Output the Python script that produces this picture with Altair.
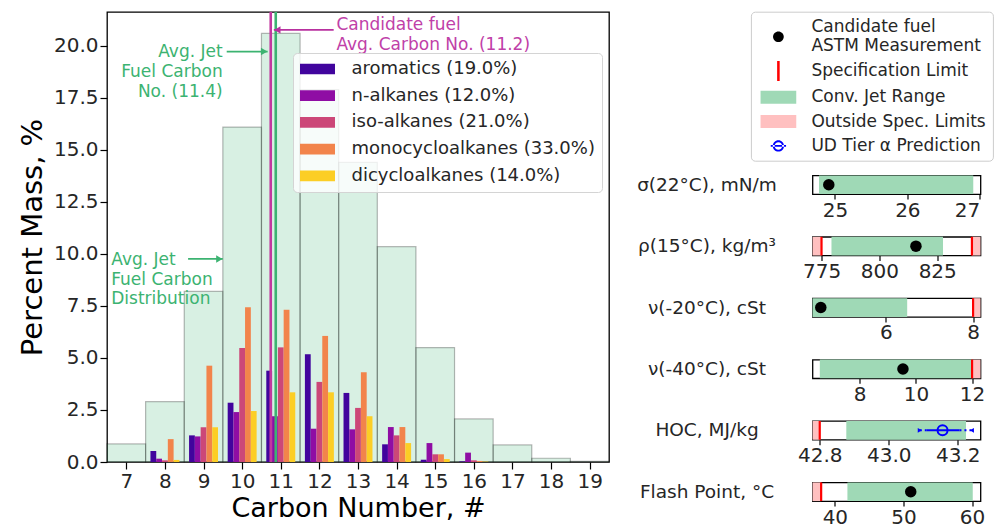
import altair as alt
import pandas as pd

FONT = "DejaVu Sans"

# ---------------- left panel data ----------------
carbon_numbers = list(range(7, 20))
jet_fuel_dist = [0.87, 2.9, 8.2, 16.1, 20.6, 17.9, 14.4, 10.35, 5.5, 2.07, 0.82, 0.18, 0.03]

comp_carbon = list(range(8, 17))
aromatics = [0.53, 1.28, 2.85, 4.39, 5.18, 3.32, 0.85, 0.11, 0.03]
n_alkanes = [0.16, 1.23, 2.40, 2.20, 1.60, 1.57, 1.68, 0.91, 0.45]
iso_alkanes = [0.08, 1.67, 5.48, 5.51, 3.85, 2.60, 1.28, 0.37, 0.08]
monocycloalkanes = [1.10, 4.63, 7.44, 7.32, 6.06, 4.31, 1.68, 0.37, 0.05]
dicycloalkanes = [0.10, 1.67, 2.45, 3.35, 3.35, 2.20, 0.91, 0.14, 0.02]
comp_names = ["aromatics (19.0%)", "n-alkanes (12.0%)", "iso-alkanes (21.0%)",
              "monocycloalkanes (33.0%)", "dicycloalkanes (14.0%)"]
comp_colors = ["#41049d", "#8f0da4", "#cc4778", "#f2844b", "#fcce25"]
comp_offsets = [-0.3, -0.15, 0.0, 0.15, 0.3]

cand_avg_line = 10.74
jet_avg_line = 10.87

ann_text = ["Candidate fuel", "Avg. Carbon No. (11.2)",
            "Avg. Jet", "Fuel Carbon", "No. (11.4)",
            "Avg. Jet", "Fuel Carbon", "Distribution"]
ann_x = [12.44, 12.44, 9.495, 9.495, 9.495, 6.61, 6.61, 6.61]
ann_y = [21.01, 20.05, 19.73, 18.76, 17.80, 9.71, 8.75, 7.84]
ann_grp = ["cand", "cand", "jet", "jet", "jet", "dist", "dist", "dist"]

arrow_x0 = [12.37, 9.60, 8.60]
arrow_x1 = [10.82, 10.66, 9.50]
arrow_y = [20.77, 19.73, 9.76]
arrow_head = [10.91, 10.57, 9.41]
arrow_grp = ["cand", "jet", "dist"]

# ---------------- right panel data ----------------
prop_labels = ["σ(22°C), mN/m", "ρ(15°C), kg/m³", "ν(-20°C), cSt",
               "ν(-40°C), cSt", "HOC, MJ/kg", "Flash Point, °C"]
prop_domains = [[24.69, 27.01], [771.1, 843.7], [4.32, 8.17],
                [6.32, 12.3], [42.779, 43.266], [36.74, 61.23]]
prop_ticks = [[25, 26, 27], [775, 800, 825], [6, 8], [8, 10, 12],
              [42.8, 43.0, 43.2], [40, 50, 60]]
prop_formats = ["d", "d", "d", "d", ".1f", "d"]
conv_lo = [24.78, 779.3, 4.32, 6.58, 42.877, 41.83]
conv_hi = [26.91, 827.5, 6.49, 12.0, 43.224, 60.1]
spec_limits = [[], [775, 840], [8], [12], [42.8], [38]]
outside_lo = [[], [771.1, 840], [8], [12], [42.779], [36.74]]
outside_hi = [[], [775, 843.7], [8.17], [12.3], [42.8], [38]]
astm_value = [24.915, 815.8, 4.51, 9.54, None, 51.06]
ud_panel = 4
ud_value = 43.156
ud_inner = [43.11, 43.205]
ud_outer = [43.09, 43.241]

kind_names = ["Candidate fuel|ASTM Measurement", "Specification Limit",
              "Conv. Jet Range", "Outside Spec. Limits", "UD Tier α Prediction"]
kind_colors = ["#000000", "#ff0000", "#9fd9b6", "#ffc0c0", "#0000ff"]

# ---------------- left chart ----------------
hist_df = pd.DataFrame({"carbon": carbon_numbers, "pct": jet_fuel_dist})
rows = []
for name, vals, off in zip(comp_names,
                           [aromatics, n_alkanes, iso_alkanes, monocycloalkanes, dicycloalkanes],
                           comp_offsets):
    for c, v in zip(comp_carbon, vals):
        rows.append({"series": name, "carbon": c, "pct": v, "offset": off})
comp_df = pd.DataFrame(rows)

xs = alt.Scale(domain=[6.5, 19.5], nice=False, zero=False)
ys = alt.Scale(domain=[0, 21.63], nice=False, zero=False)
x_axis = alt.Axis(values=carbon_numbers, format="d", title="Carbon Number, #",
                  tickSize=7, labelPadding=2, labelFontSize=20, titleFontSize=27,
                  titlePadding=4)
y_axis = alt.Axis(values=[0, 2.5, 5, 7.5, 10, 12.5, 15, 17.5, 20], format=".1f",
                  title="Percent Mass, %", tickSize=7, labelPadding=2, labelFontSize=20,
                  titleFontSize=29, titlePadding=6)

hist = alt.Chart(hist_df).transform_calculate(
    xl="datum.carbon - 0.5", xr="datum.carbon + 0.5"
).mark_rect(fill="#3cb371", fillOpacity=0.2, stroke="#000000", strokeOpacity=0.28,
            strokeWidth=1.2).encode(
    x=alt.X("xl:Q", scale=xs, axis=x_axis),
    x2="xr:Q",
    y=alt.Y("pct:Q", scale=ys, axis=y_axis),
    y2=alt.datum(0),
)

comp = alt.Chart(comp_df).transform_calculate(
    xl="datum.carbon + datum.offset - 0.075", xr="datum.carbon + datum.offset + 0.075"
).mark_rect().encode(
    x=alt.X("xl:Q", scale=xs, axis=x_axis),
    x2="xr:Q",
    y=alt.Y("pct:Q", scale=ys, axis=y_axis),
    y2=alt.datum(0),
    color=alt.Color("series:N", scale=alt.Scale(domain=comp_names, range=comp_colors),
                    legend=alt.Legend(title=None, orient="none", legendX=186, legendY=41,
                                      symbolType="M-1.944,-0.594H1.944V0.594H-1.944Z",
                                      symbolSize=324, symbolOffset=8.5,
                                      symbolStrokeWidth=0, labelFontSize=18, labelFont=FONT,
                                      labelColor="#262626", labelOffset=25, rowPadding=8.7,
                                      padding=7, fillColor="rgba(255,255,255,0.8)",
                                      strokeColor="#d4d4d4", cornerRadius=4, labelLimit=400)),
)

cand_rule = alt.Chart(pd.DataFrame({"x": [cand_avg_line]})).mark_rule(
    color="#c2389f", strokeWidth=2.6).encode(x=alt.X("x:Q", scale=xs, axis=x_axis))
jet_rule = alt.Chart(pd.DataFrame({"x": [jet_avg_line]})).mark_rule(
    color="#3cb371", strokeWidth=2.6).encode(x=alt.X("x:Q", scale=xs, axis=x_axis))

ann_df = pd.DataFrame({"text": ann_text, "x": ann_x, "y": ann_y, "grp": ann_grp})
arrow_df = pd.DataFrame({"x0": arrow_x0, "x1": arrow_x1, "y": arrow_y,
                         "head": arrow_head, "grp": arrow_grp})


def ann_layer(grp, align, color):
    return alt.Chart(ann_df).transform_filter(f"datum.grp == '{grp}'").mark_text(
        align=align, baseline="middle", fontSize=17, font=FONT, color=color
    ).encode(x=alt.X("x:Q", scale=xs, axis=x_axis), y=alt.Y("y:Q", scale=ys, axis=y_axis),
             text="text:N")


def arrow_layers(grp, color, shape):
    base = alt.Chart(arrow_df).transform_filter(f"datum.grp == '{grp}'")
    line = base.mark_rule(color=color, strokeWidth=1.8).encode(
        x=alt.X("x0:Q", scale=xs, axis=x_axis), x2="x1:Q",
        y=alt.Y("y:Q", scale=ys, axis=y_axis))
    head = base.mark_point(shape=shape, filled=True, color=color, size=55, opacity=1).encode(
        x=alt.X("head:Q", scale=xs, axis=x_axis), y=alt.Y("y:Q", scale=ys, axis=y_axis))
    return [line, head]


main = alt.layer(
    hist, comp, cand_rule, jet_rule,
    ann_layer("cand", "left", "#c040a8"),
    ann_layer("jet", "right", "#3cb371"),
    ann_layer("dist", "left", "#3cb371"),
    *arrow_layers("cand", "#b8309f", "triangle-left"),
    *arrow_layers("jet", "#3cb371", "triangle-right"),
    *arrow_layers("dist", "#3cb371", "triangle-right"),
).properties(width=502, height=450)

# ---------------- right panels ----------------
# legend symbol paths, unit = 8.5 px (symbolSize 289)
sym_paths = [
    "M-0.63,1.18A0.63,0.63 0 1,0 0.63,1.18A0.63,0.63 0 1,0 -0.63,1.18Z",
    "M-0.15,-1.18H0.15V1.18H-0.15Z",
    "M-2.1,-0.765H2.1V0.765H-2.1Z",
    "M-2.1,-0.765H2.1V0.765H-2.1Z",
    "M-0.66,0A0.66,0.66 0 1,0 0.66,0A0.66,0.66 0 1,0 -0.66,0Z"
    "M-0.44,0A0.44,0.44 0 1,1 0.44,0A0.44,0.44 0 1,1 -0.44,0Z"
    "M-0.9,-0.11H0.9V0.11H-0.9Z",
]
dom_js = "[" + ",".join(f"'{k}'" for k in kind_names) + "]"


def pick(arr):
    return "[" + ",".join(f"'{a}'" for a in arr) + f"][indexof({dom_js}, datum.value)]"


kind_scale = alt.Scale(domain=kind_names, range=kind_colors)

right_legend = alt.Legend(
    title=None, orient="none", legendX=-61.6, legendY=-0.3, padding=6.5,
    symbolSize=289, symbolStrokeWidth=0, symbolOffset=12.5, labelOffset=24.5, rowPadding=6.3,
    symbolType=alt.ExprRef(expr=pick(sym_paths)), symbolOpacity=1,
    labelFontSize=17, labelFont=FONT, labelColor="#262626", labelLimit=400,
    labelExpr="split(datum.label, '|')", fillColor="white", strokeColor="#cccccc",
    cornerRadius=4,
)

# legend-only cell: no rows pass the filter, the explicit domain keeps every entry
legend_cell = alt.Chart(pd.DataFrame({"kind": kind_names})).transform_filter(
    "false").mark_rect().encode(
    color=alt.Color("kind:N", scale=kind_scale, legend=right_legend)
).properties(width=168, height=120.9, view=alt.ViewBackground(stroke=None))


def panel(i):
    lab = prop_labels[i]
    xsc = alt.Scale(domain=prop_domains[i], nice=False, zero=False)
    xax = alt.Axis(values=prop_ticks[i], format=prop_formats[i], title=None, grid=False,
                   domain=False, tickSize=5, tickWidth=1.2, tickColor="black",
                   labelFontSize=20, labelPadding=1, labelFont=FONT, labelColor="#262626")
    yax = alt.Axis(title=None, ticks=False, tickSize=0, domain=False, labelAlign="center",
                   labelPadding=106, labelFontSize=18.5, labelLimit=400, labelFont=FONT,
                   labelColor="#262626", labelBaseline="middle")
    ysc = alt.Scale(paddingInner=0, paddingOuter=0)

    def enc(**kw):
        d = dict(x=alt.X("lo:Q", scale=xsc, axis=xax),
                 color=alt.Color("kind:N", scale=kind_scale, legend=None))
        d.update(kw)
        return d

    Y = alt.Y("label:N", scale=ysc, axis=yax)
    layers = []
    conv = pd.DataFrame({"lo": [conv_lo[i]], "hi": [conv_hi[i]], "label": [lab],
                         "kind": [kind_names[2]]})
    layers.append(alt.Chart(conv).mark_rect().encode(**enc(x2="hi:Q", y=Y)))
    if outside_lo[i]:
        od = pd.DataFrame({"lo": outside_lo[i], "hi": outside_hi[i],
                           "label": [lab] * len(outside_lo[i]),
                           "kind": [kind_names[3]] * len(outside_lo[i])})
        layers.append(alt.Chart(od).mark_rect().encode(**enc(x2="hi:Q", y=Y)))
    if spec_limits[i]:
        sd = pd.DataFrame({"lo": spec_limits[i], "kind": [kind_names[1]] * len(spec_limits[i])})
        layers.append(alt.Chart(sd).mark_rule(strokeWidth=2.2).encode(**enc()))
    if astm_value[i] is not None:
        ad = pd.DataFrame({"lo": [astm_value[i]], "label": [lab], "kind": [kind_names[0]]})
        layers.append(alt.Chart(ad).mark_point(filled=True, size=132, opacity=1).encode(**enc(y=Y)))
    if i == ud_panel:
        k = kind_names[4]
        inner = pd.DataFrame({"lo": [ud_inner[0]], "hi": [ud_inner[1]], "label": [lab], "kind": [k]})
        outer = pd.DataFrame({"lo": [ud_outer[0], ud_inner[1]], "hi": [ud_inner[0], ud_outer[1]],
                              "label": [lab, lab], "kind": [k, k]})
        ends_l = pd.DataFrame({"lo": [ud_outer[0]], "label": [lab], "kind": [k]})
        ends_r = pd.DataFrame({"lo": [ud_outer[1]], "label": [lab], "kind": [k]})
        center = pd.DataFrame({"lo": [ud_value], "label": [lab], "kind": [k]})
        layers.append(alt.Chart(outer).mark_rule(strokeWidth=2, strokeDash=[2, 3]).encode(**enc(x2="hi:Q", y=Y)))
        layers.append(alt.Chart(inner).mark_rule(strokeWidth=2).encode(**enc(x2="hi:Q", y=Y)))
        layers.append(alt.Chart(ends_l).mark_point(shape="triangle-right", filled=True, size=22, opacity=1).encode(**enc(y=Y)))
        layers.append(alt.Chart(ends_r).mark_point(shape="triangle-left", filled=True, size=22, opacity=1).encode(**enc(y=Y)))
        layers.append(alt.Chart(center).mark_point(filled=False, size=100, strokeWidth=2, opacity=1).encode(**enc(y=Y)))
    return alt.layer(*layers).properties(width=168, height=18.7)


right = alt.vconcat(legend_cell, *[panel(i) for i in range(6)], spacing=42.4,
                    bounds="flush").resolve_scale(color="independent", x="independent",
                                                  y="independent")

chart = alt.hconcat(main, right, spacing=24.5).resolve_scale(
    color="independent", x="independent", y="independent"
).properties(
    padding={"left": 17, "top": 10, "right": 2, "bottom": 2}
).configure(font=FONT).configure_view(
    stroke="black", strokeWidth=1.3
).configure_axis(
    labelFont=FONT, titleFont=FONT, titleFontWeight="normal", labelColor="#262626",
    titleColor="#000000", tickColor="#000000", tickWidth=1.2, grid=False, domain=False
)

chart.save("out.html", embed_options={"renderer": "svg", "actions": False})
